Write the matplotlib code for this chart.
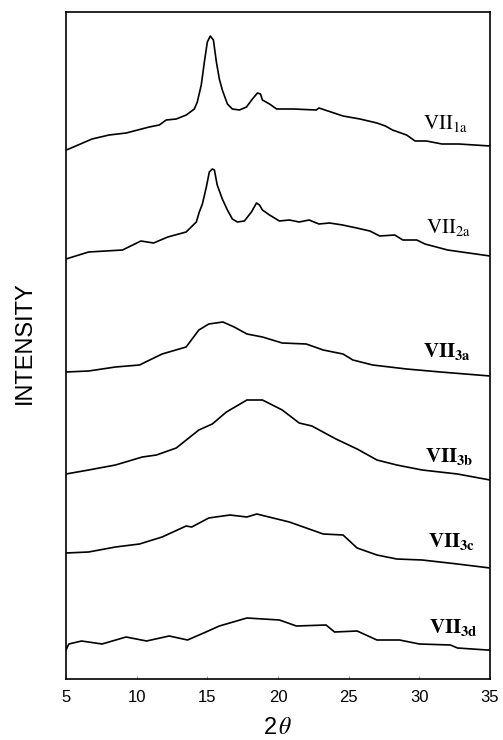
import matplotlib
matplotlib.use("Agg")
import matplotlib.pyplot as plt

plt.rcParams['mathtext.fontset'] = 'stix'

# 2-theta positions and intensities (arbitrary units)
tt_1a = [5.0, 5.2, 6.84, 8.05, 9.26, 10.89, 11.6, 12.09, 12.8, 13.51, 14.08, 14.29, 14.57,
         14.79, 15.0, 15.21, 15.43, 15.64, 15.85, 16.06, 16.42, 16.77, 17.27, 17.77, 18.19,
         18.55, 18.76, 18.9, 19.4, 19.9, 21.1, 22.7, 22.9, 24.6, 25.8, 27.0, 27.6, 28.1,
         29.1, 29.7, 30.5, 31.6, 32.8, 35.0]
i_1a = [529, 530, 540, 544, 546, 552, 554, 559, 560, 564, 570, 577, 594,
        617, 637, 643, 639, 617, 600, 589, 575, 570, 569, 572, 580,
        586, 585, 579, 575, 570, 570, 569, 571, 563, 560, 556, 553, 549,
        544, 538, 538, 535, 535, 533]

tt_2a = [5.0, 6.6, 9.0, 10.3, 11.2, 12.2, 13.5, 14.22, 14.43, 14.65, 14.93, 15.14, 15.35,
         15.5, 15.7, 16.06, 16.42, 16.77, 17.13, 17.62, 18.12, 18.48, 18.69, 18.9, 19.4,
         20.1, 20.8, 21.5, 22.2, 22.9, 23.65, 24.57, 25.57, 26.5, 27.2, 28.26, 28.83,
         29.82, 30.4, 32.0, 35.0]
i_2a = [420, 427, 429, 438, 436, 442, 447, 457, 467, 475, 492, 507, 510,
        509, 494, 480, 469, 460, 457, 458, 467, 476, 474, 469, 464,
        458, 459, 457, 459, 455, 456, 454, 451, 448, 443, 444, 439,
        439, 435, 429, 423]

tt_3a = [5.0, 6.6, 8.5, 10.2, 11.8, 13.5, 14.4, 15.1, 16.1, 16.9, 17.8, 18.9, 20.3,
         22.0, 23.2, 24.6, 25.3, 26.7, 29.1, 31.5, 35.0]
i_3a = [307, 308, 312, 314, 325, 332, 349, 355, 357, 352, 345, 342, 336,
        335, 329, 325, 319, 314, 310, 307, 303]

tt_3b = [5.0, 6.6, 8.5, 10.4, 11.4, 12.8, 14.4, 15.35, 16.35, 17.8, 18.9, 20.3, 21.5,
         22.4, 24.1, 25.6, 27.0, 28.4, 30.2, 32.7, 35.0]
i_3b = [205, 209, 214, 222, 224, 231, 249, 255, 267, 279, 279, 269, 256,
        253, 240, 230, 219, 214, 209, 205, 199]

tt_3c = [5.0, 6.6, 8.5, 10.2, 11.8, 13.5, 13.9, 15.1, 16.6, 17.8, 18.5, 20.8, 23.2,
         24.6, 25.6, 27.0, 28.4, 30.2, 32.7, 35.0]
i_3c = [126, 127, 132, 135, 142, 153, 152, 161, 164, 162, 165, 157, 145,
        144, 131, 124, 120, 119, 115, 111]

tt_3d = [5.0, 5.2, 6.1, 7.55, 9.25, 10.7, 12.3, 13.6, 14.9, 15.85, 17.8, 20.1, 21.3,
         23.4, 24.0, 25.6, 27.0, 28.6, 30.0, 32.2, 32.7, 34.8, 35.0]
i_3d = [29, 35, 38, 35, 42, 38, 43, 39, 47, 53, 61, 59, 53,
        54, 47, 48, 39, 39, 35, 34, 31, 29, 29]

labels = ['VII_{1a}', 'VII_{2a}', 'VII_{3a}', 'VII_{3b}', 'VII_{3c}', 'VII_{3d}']
series = [(tt_1a, i_1a), (tt_2a, i_2a), (tt_3a, i_3a),
          (tt_3b, i_3b), (tt_3c, i_3c), (tt_3d, i_3d)]
label_pos = [(30.25, 555), (30.5, 451), (30.25, 327), (30.4, 222), (30.6, 137), (30.7, 52)]
label_bold = [False, False, True, True, True, True]

fig = plt.figure(figsize=(5.03, 7.40), dpi=100)
ax = fig.add_axes([66 / 503, 1 - 679 / 740, (490 - 66) / 503, (679 - 12) / 740])

for (tt, inten), lab, (lx, ly), bold in zip(series, labels, label_pos, label_bold):
    ax.plot(tt, inten, color='black', lw=1.2)
    txt = r'$\mathbf{%s}$' % lab if bold else r'$\mathrm{%s}$' % lab
    ax.text(lx, ly, txt, fontsize=15, va='center', ha='left')

ax.set_xlim(5, 35)
ax.set_ylim(0, 667)
ax.set_xticks([5, 10, 15, 20, 25, 30, 35])
ax.set_yticks([])
ax.tick_params(axis='x', direction='in', length=2, color='0.6', pad=8,
               labelsize=12)
for lbl in ax.get_xticklabels():
    lbl.set_family('Liberation Sans')
for s in ax.spines.values():
    s.set_linewidth(1.2)

fig.text(25 / 503, 1 - 343 / 740, 'INTENSITY', rotation=90, ha='center', va='center',
         fontsize=17, family='Liberation Sans')
fig.text(0.5 * (66 + 490) / 503, 1 - 728 / 740, r'2$\,\theta$', ha='center', va='center',
         fontsize=17, family='Liberation Sans')

fig.savefig('out.png', dpi=100)
